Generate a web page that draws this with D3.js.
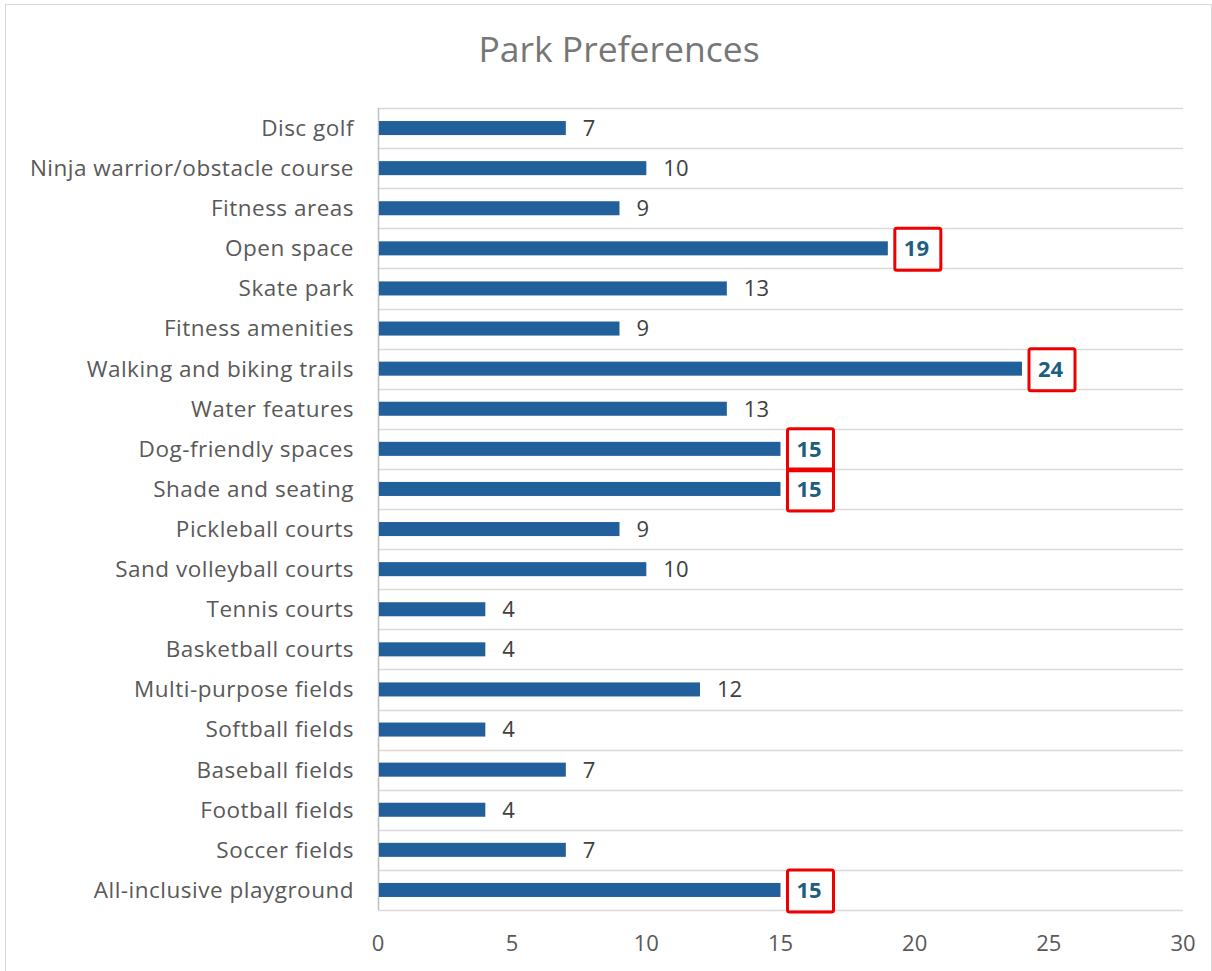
<!DOCTYPE html>
<html><head><meta charset="utf-8">
<script src="https://cdn.jsdelivr.net/npm/d3@7"></script>
<style>body{margin:0;background:#fff;} svg{display:block;}</style>
</head><body>
<script>
const categories = ["Disc golf","Ninja warrior/obstacle course","Fitness areas","Open space","Skate park","Fitness amenities","Walking and biking trails","Water features","Dog-friendly spaces","Shade and seating","Pickleball courts","Sand volleyball courts","Tennis courts","Basketball courts","Multi-purpose fields","Softball fields","Baseball fields","Football fields","Soccer fields","All-inclusive playground"];
const values = [7,10,9,19,13,9,24,13,15,15,9,10,4,4,12,4,7,4,7,15];
const highlighted = ["Open space","Walking and biking trails","Dog-friendly spaces","Shade and seating","All-inclusive playground"];
const xTicks = [0,5,10,15,20,25,30];
const title = "Park Preferences";

(function(){
const W = 1212, H = 971;
const font = "'Open Sans', sans-serif";
const svg = d3.select("body").append("svg").attr("width", W).attr("height", H);
svg.append("rect").attr("x",5.5).attr("y",4.5).attr("width",W-6).attr("height",H-4)
  .attr("fill","#fff").attr("stroke","#d9d9d9");

const pL = 378, pR = 1183, pT = 108, pB = 910;
const x = d3.scaleLinear().domain([0,30]).range([pL,pR]);
const y = d3.scaleBand().domain(categories).range([pT,pB]).paddingInner(0.65).paddingOuter(0.325);

svg.append("text").attr("x", 619).attr("y", 62).attr("text-anchor","middle")
  .attr("font-family", font).attr("font-size", 35.5).attr("fill","#767676").text(title);

const step = y.step();
const gridYs = d3.range(categories.length+1).map(i => pT + i*step);
svg.append("g").selectAll("line").data(gridYs).join("line")
  .attr("x1", pL).attr("x2", pR).attr("y1", d=>Math.round(d)+0.5).attr("y2", d=>Math.round(d)+0.5)
  .attr("stroke","#d9d9d9").attr("stroke-width",1.5);

svg.append("line").attr("x1",pL+0.5).attr("x2",pL+0.5).attr("y1",pT).attr("y2",pB)
  .attr("stroke","#bfbfbf").attr("stroke-width",1.5);

svg.append("g").selectAll("rect").data(categories).join("rect")
  .attr("x", x(0)+1).attr("y", d=>y(d)).attr("height", y.bandwidth())
  .attr("width", (d,i)=>x(values[i])-x(0)-1).attr("fill","#22609c");

svg.append("g").selectAll("text").data(categories).join("text")
  .attr("x", 354).attr("y", d=>y(d)+y.bandwidth()/2).attr("dy","0.35em")
  .attr("text-anchor","end").attr("font-family",font).attr("font-size",22.5)
  .attr("letter-spacing","0.5px").attr("fill","#595959")
  .text(d=>d);

const lab = svg.append("g").selectAll("g").data(categories).join("g");
lab.each(function(d,i){
  const g = d3.select(this);
  const hi = highlighted.includes(d);
  const cx = x(values[i]) + 12;
  const cy = y(d)+y.bandwidth()/2;
  if (hi) {
    g.append("rect").attr("x", cx-5).attr("y", cy-20).attr("width",46).attr("height",42)
      .attr("rx",2).attr("fill","none").attr("stroke","#ee0000").attr("stroke-width",3);
  }
  g.append("text").attr("x", hi ? cx+4 : cx+5).attr("y", cy).attr("dy","0.36em")
    .attr("font-family",font).attr("font-size",22)
    .attr("font-weight", hi ? "bold" : "normal")
    .attr("fill", hi ? "#1c5f82" : "#404040").text(values[i]);
});

svg.append("g").selectAll("text").data(xTicks).join("text")
  .attr("x", d=>x(d)).attr("y", 943).attr("dy","0.36em").attr("text-anchor","middle")
  .attr("font-family",font).attr("font-size",22).attr("fill","#595959").text(d=>d);
})();
</script>
</body></html>
